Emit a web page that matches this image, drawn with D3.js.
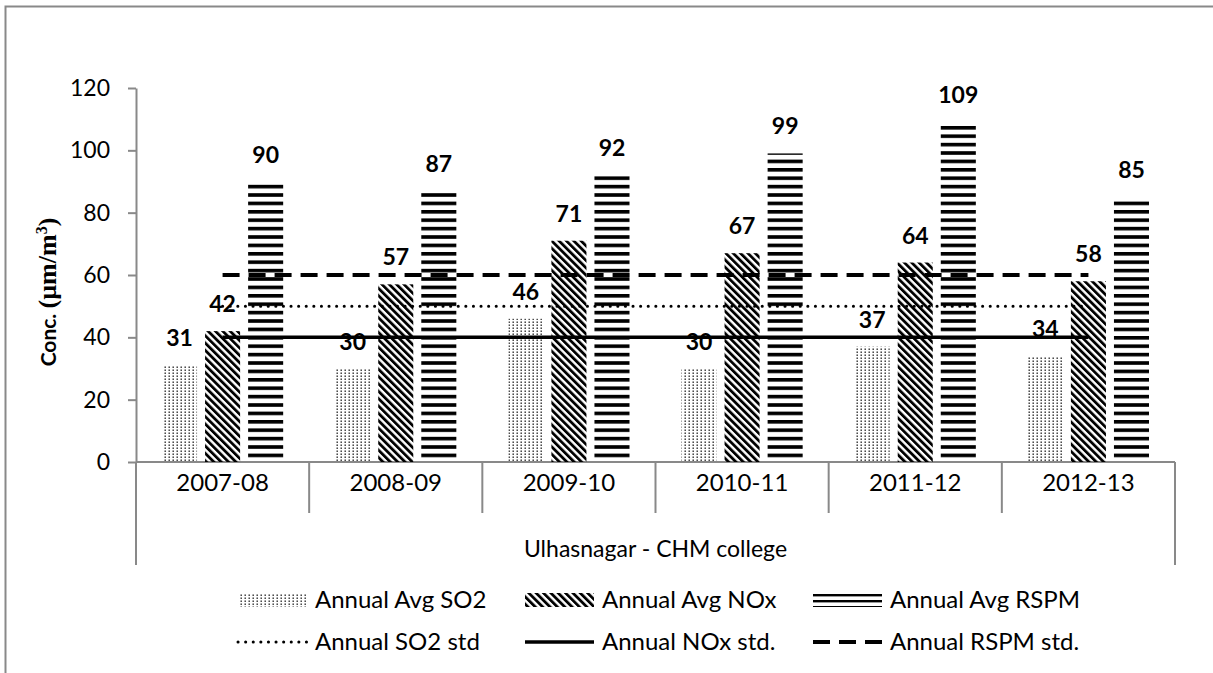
<!DOCTYPE html>
<html><head><meta charset="utf-8">
<script src="https://cdn.jsdelivr.net/npm/d3@7"></script>
<style>
html,body{margin:0;padding:0;background:#fff;}
svg{display:block;}
text{font-family:Lato,"Open Sans",sans-serif;fill:#000;}
</style></head>
<body>
<svg id="c" width="1213" height="673"></svg>
<script>
// ---- data ----
const categories = ["2007-08","2008-09","2009-10","2010-11","2011-12","2012-13"];
const so2  = [31,30,46,30,37,34];
const nox  = [42,57,71,67,64,58];
const rspm = [90,87,92,99,109,85];
const so2Std  = [50,50,50,50,50,50];
const noxStd  = [40,40,40,40,40,40];
const rspmStd = [60,60,60,60,60,60];
const yTicks = [0,20,40,60,80,100,120];
const groupLabel = "Ulhasnagar - CHM college";
const barSeries = ["Annual Avg SO2","Annual Avg NOx","Annual Avg RSPM"];
const lineSeries = ["Annual SO2 std","Annual NOx std.","Annual RSPM std."];

const svg = d3.select("#c");
const grey = "#898989";
const FS = 23;

// patterns
const defs = svg.append("defs");
const pDot = defs.append("pattern").attr("id","pDot").attr("patternUnits","userSpaceOnUse")
  .attr("width",4).attr("height",3);
pDot.append("rect").attr("x",0.5).attr("y",0.5).attr("width",1.4).attr("height",1.4).attr("fill","#222");
const pDiag = defs.append("pattern").attr("id","pDiag").attr("patternUnits","userSpaceOnUse")
  .attr("width",5.2).attr("height",10).attr("patternTransform","rotate(-45)");
pDiag.append("rect").attr("x",0).attr("y",0).attr("width",2.8).attr("height",10).attr("fill","#000");
const pHor = defs.append("pattern").attr("id","pHor").attr("patternUnits","userSpaceOnUse")
  .attr("width",10).attr("height",8.4);
pHor.append("rect").attr("x",0).attr("y",0).attr("width",10).attr("height",3.6).attr("fill","#000");
const pHorL = defs.append("pattern").attr("id","pHorL").attr("patternUnits","userSpaceOnUse")
  .attr("width",10).attr("height",6).attr("y",0);
pHorL.append("rect").attr("x",0).attr("y",0).attr("width",10).attr("height",2.4).attr("fill","#000");
const fills = ["url(#pDot)","url(#pDiag)","url(#pHor)"];
const legendFills = ["url(#pDot)","url(#pDiag)","url(#pHorL)"];

// outer frame
svg.append("rect").attr("x",5.5).attr("y",6.5).attr("width",1400).attr("height",900)
  .attr("fill","none").attr("stroke",grey).attr("stroke-width",2);

// scales
const x0 = d3.scaleBand().domain(categories).range([136,1175]);
const bw = x0.bandwidth();
const x1 = d3.scaleBand().domain(barSeries).range([26,bw-26]).paddingInner(8/43);
const y = d3.scaleLinear().domain([0,120]).range([462,88]);

// y axis
const ya = svg.append("g").attr("transform","translate(136,0)")
  .call(d3.axisLeft(y).tickValues(yTicks).tickSize(8).tickPadding(18).tickSizeOuter(0));
ya.select(".domain").attr("stroke",grey).attr("stroke-width",2);
ya.selectAll(".tick line").attr("stroke",grey).attr("stroke-width",2);
ya.selectAll(".tick text").attr("font-size",FS).attr("font-family","Lato").attr("fill","#000");

// category axis table
const cat = svg.append("g");
cat.append("line").attr("x1",136).attr("x2",1175).attr("y1",462).attr("y2",462)
  .attr("stroke",grey).attr("stroke-width",2);
const bounds = categories.map(c=>x0(c)).concat([x0(categories[categories.length-1])+bw]);
cat.selectAll("line.sep").data(bounds).join("line").attr("class","sep")
  .attr("x1",d=>d).attr("x2",d=>d).attr("y1",462)
  .attr("y2",(d,i)=> (i===0||i===bounds.length-1)?565:513)
  .attr("stroke",grey).attr("stroke-width",2);
cat.selectAll("text.cl").data(categories).join("text").attr("class","cl")
  .attr("x",d=>x0(d)+bw/2).attr("y",491).attr("text-anchor","middle")
  .attr("font-size",FS+1).text(d=>d);
cat.append("text").attr("x",(136+1175)/2).attr("y",557).attr("text-anchor","middle")
  .attr("font-size",FS).text(groupLabel);

// bars
const barData = [so2,nox,rspm];
barSeries.forEach((s,si)=>{
  const g = svg.append("g");
  g.selectAll("rect").data(categories).join("rect")
    .attr("x",(c)=>x0(c)+x1(s)).attr("width",x1.bandwidth())
    .attr("y",(c,i)=>y(barData[si][i])).attr("height",(c,i)=>y(0)-y(barData[si][i]))
    .attr("fill",fills[si]);
});

// std lines
const stdData = [so2Std,noxStd,rspmStd];
const lineStyles = [
  {w:3, dash:"0.1,7.5", cap:"round"},
  {w:3.5, dash:null, cap:"butt"},
  {w:4, dash:"17,9", cap:"butt"}
];
const lineGen = d3.line().x(d=>x0(d.c)+bw/2).y(d=>y(d.v));
stdData.forEach((arr,i)=>{
  svg.append("path").datum(categories.map((c,j)=>({c,v:arr[j]})))
    .attr("d",lineGen).attr("fill","none").attr("stroke","#000")
    .attr("stroke-width",lineStyles[i].w).attr("stroke-linecap",lineStyles[i].cap)
    .attr("stroke-dasharray",lineStyles[i].dash);
});

// data labels
barSeries.forEach((s,si)=>{
  svg.append("g").selectAll("text").data(categories).join("text")
    .attr("x",c=>x0(c)+x1(s)+x1.bandwidth()/2)
    .attr("y",(c,i)=>y(barData[si][i])-19)
    .attr("text-anchor","middle").attr("font-size",FS).attr("font-weight","bold")
    .text((c,i)=>barData[si][i]);
});

// y title
const yt = svg.append("text").attr("transform","translate(56,292) rotate(-90)")
  .attr("text-anchor","middle").attr("font-size",21).attr("font-weight","bold");
yt.append("tspan").text("Conc. ");
yt.append("tspan").attr("font-family","'Liberation Serif',serif").attr("font-size",26).text("(µm/m");
yt.append("tspan").attr("font-family","'Liberation Serif',serif").attr("font-size",16).attr("dy",-9).text("3");
yt.append("tspan").attr("font-family","'Liberation Serif',serif").attr("font-size",26).attr("dy",9).text(")");

// legend
const legX = [238,525,813];
const leg = svg.append("g");
barSeries.forEach((s,i)=>{
  leg.append("rect").attr("x",legX[i]).attr("y",593).attr("width",69).attr("height",14).attr("fill",legendFills[i]);
  leg.append("text").attr("x",legX[i]+77).attr("y",608).attr("font-size",FS+1).text(s);
});
lineSeries.forEach((s,i)=>{
  leg.append("line").attr("x1",legX[i]).attr("x2",legX[i]+69).attr("y1",642).attr("y2",642)
    .attr("stroke","#000").attr("stroke-width",lineStyles[i].w)
    .attr("stroke-linecap",lineStyles[i].cap).attr("stroke-dasharray",lineStyles[i].dash);
  leg.append("text").attr("x",legX[i]+77).attr("y",650).attr("font-size",FS+1).text(s);
});
</script>
</body></html>
